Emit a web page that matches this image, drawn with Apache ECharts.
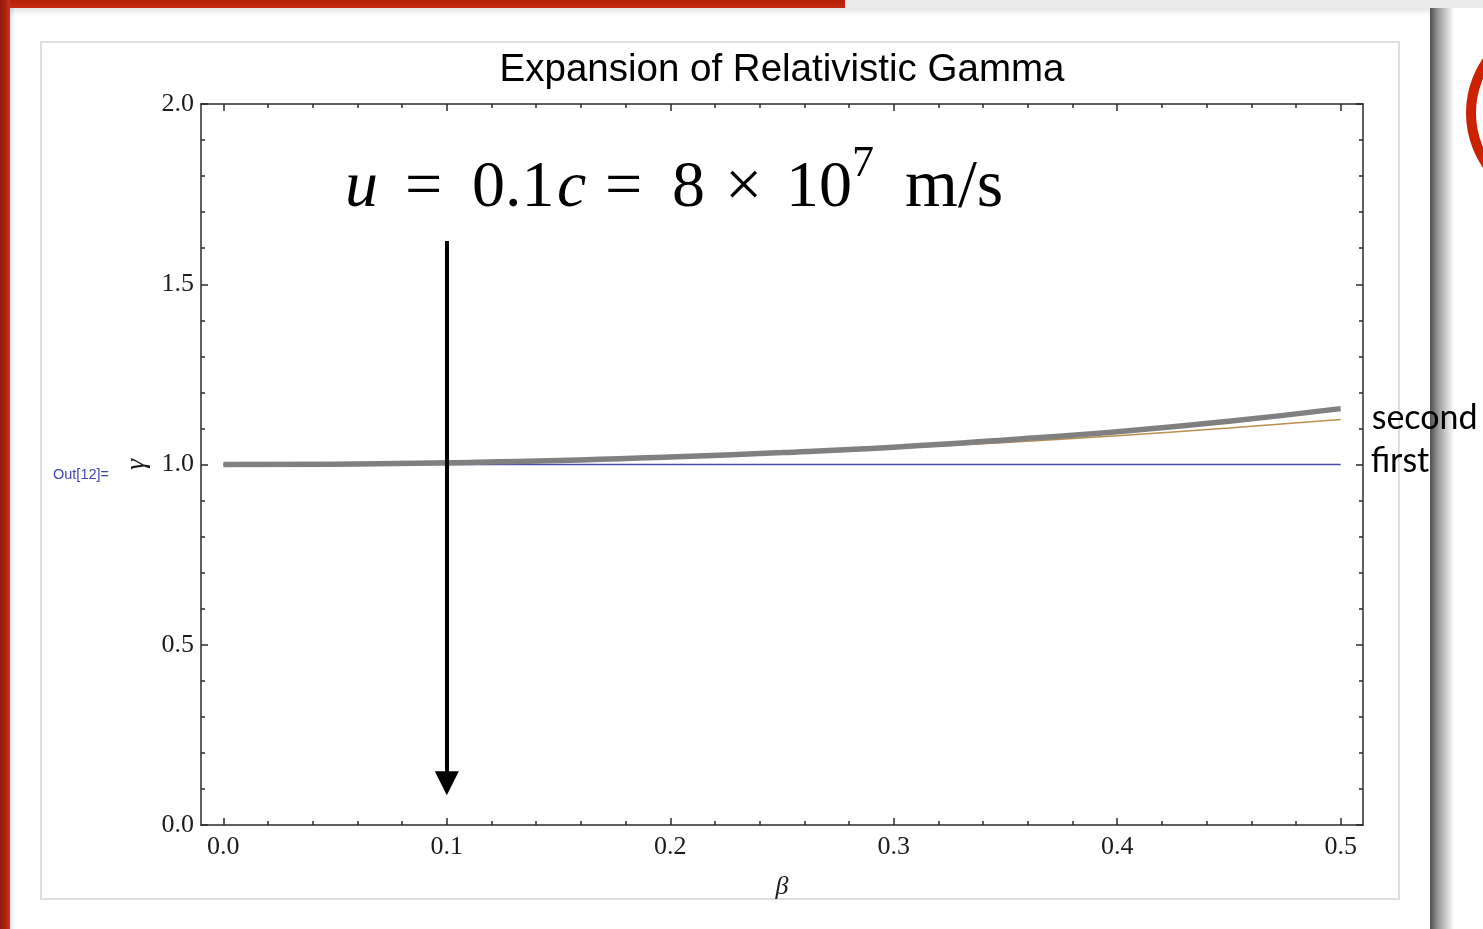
<!DOCTYPE html>
<html>
<head>
<meta charset="utf-8">
<script src="https://cdn.jsdelivr.net/npm/echarts@6/dist/echarts.min.js"></script>
<style>
  html, body { margin: 0; padding: 0; background: #ffffff; }
  #chart { width: 1483px; height: 929px; }
</style>
</head>
<body>
<div id="chart"></div>
<script>
// beta = u/c sample points and the three gamma curves
const beta = [0, 0.05, 0.1, 0.15, 0.2, 0.25, 0.3, 0.35, 0.4, 0.45, 0.5];
const gammaExact = [1.000, 1.001, 1.005, 1.011, 1.021, 1.033, 1.048, 1.068, 1.091, 1.120, 1.155];
const gammaSecond = [1.000, 1.001, 1.005, 1.011, 1.020, 1.031, 1.045, 1.061, 1.080, 1.101, 1.125];
const betaFirst = [0, 0.5];
const gammaFirst = [1.0, 1.0];

// arrow marking u = 0.1c (shaft start, arrow-head centre)
const arrowBeta = 0.1;
const arrowFrom = 1.62;
const arrowTo = 0.116;

// axis ticks
const betaTicks = [0, 0.1, 0.2, 0.3, 0.4, 0.5];
const betaMinorTicks = [0.02, 0.04, 0.06, 0.08, 0.12, 0.14, 0.16, 0.18, 0.22, 0.24, 0.26, 0.28,
                        0.32, 0.34, 0.36, 0.38, 0.42, 0.44, 0.46, 0.48];
const gammaMin = 0, gammaMax = 2, gammaStep = 0.5;

const frameColor = '#2b2b2b';
const serif = '"Liberation Serif", "Times New Roman", serif';

function pairs(xs, ys) { return xs.map((x, i) => [x, ys[i]]); }

function betaAxis(position, ticks, len, withLine, withLabels) {
  return {
    type: 'value', position: position, min: -0.01, max: 0.51,
    axisLine: { show: withLine, onZero: false, lineStyle: { color: frameColor, width: 1.5 } },
    axisTick: { show: true, inside: true, length: len, customValues: ticks,
                lineStyle: { color: frameColor, width: 1.5 } },
    axisLabel: withLabels ? {
      show: true, customValues: ticks, margin: 9,
      formatter: v => v.toFixed(1),
      fontFamily: serif, fontSize: 26, color: '#1c1c1c'
    } : { show: false },
    splitLine: { show: false },
    name: withLabels ? 'β' : '',
    nameLocation: 'middle', nameGap: 49,
    nameTextStyle: { fontFamily: serif, fontStyle: 'italic', fontSize: 26, color: '#1c1c1c' }
  };
}

function gammaAxis(position, withLabels) {
  return {
    type: 'value', position: position, min: gammaMin, max: gammaMax, interval: gammaStep,
    axisLine: { show: true, onZero: false, lineStyle: { color: frameColor, width: 1.5 } },
    axisTick: { show: true, inside: true, length: 7, lineStyle: { color: frameColor, width: 1.5 } },
    minorTick: { show: true, splitNumber: 5, length: 4, lineStyle: { color: frameColor, width: 1.5 } },
    axisLabel: withLabels ? {
      show: true, margin: 7, formatter: v => v.toFixed(1),
      fontFamily: serif, fontSize: 26, color: '#1c1c1c'
    } : { show: false },
    splitLine: { show: false },
    minorSplitLine: { show: false },
    name: withLabels ? 'γ' : '',
    nameLocation: 'middle', nameGap: 43, nameRotate: 90,
    nameTextStyle: { fontFamily: serif, fontStyle: 'italic', fontSize: 28, color: '#1c1c1c' }
  };
}

const chart = echarts.init(document.getElementById('chart'), null, { renderer: 'canvas' });

chart.setOption({
  backgroundColor: '#ffffff',
  animation: false,
  title: {
    text: 'Expansion of Relativistic Gamma',
    left: 782, top: 51, padding: 0, textAlign: 'center',
    textStyle: { fontFamily: '"Liberation Sans", Arial, sans-serif', fontSize: 38.5, fontWeight: 'normal', color: '#000' }
  },
  grid: { left: 201, top: 104, width: 1162, height: 721, containLabel: false, outerBoundsMode: 'none' },
  xAxis: [
    betaAxis('bottom', betaTicks, 7, true, true),
    betaAxis('bottom', betaMinorTicks, 4, false, false),
    betaAxis('top', betaTicks, 7, true, false),
    betaAxis('top', betaMinorTicks, 4, false, false)
  ],
  yAxis: [
    gammaAxis('left', true),
    gammaAxis('right', false)
  ],
  graphic: [
    // slide page behind the notebook cell
    { type: 'rect', z: -20, silent: true, shape: { x: 0, y: 0, width: 1483, height: 929 }, style: { fill: '#ffffff' } },
    { type: 'rect', z: -19, silent: true, shape: { x: 845, y: 0, width: 638, height: 8 }, style: { fill: '#ebebeb' } },
    { type: 'rect', z: -19, silent: true, shape: { x: 0, y: 0, width: 845, height: 8 },
      style: { fill: new echarts.graphic.LinearGradient(0, 0, 0, 1, [
        { offset: 0, color: '#b51f08' }, { offset: 1, color: '#c52a10' }]) } },
    { type: 'rect', z: -19, silent: true, shape: { x: 0, y: 8, width: 1430, height: 8 },
      style: { fill: new echarts.graphic.LinearGradient(0, 0, 0, 1, [
        { offset: 0, color: 'rgba(0,0,0,0.10)' }, { offset: 1, color: 'rgba(0,0,0,0)' }]) } },
    { type: 'rect', z: -18, silent: true, shape: { x: 0, y: 0, width: 10, height: 929 },
      style: { fill: new echarts.graphic.LinearGradient(0, 0, 1, 0, [
        { offset: 0, color: '#8f1a0a' }, { offset: 0.6, color: '#b32210' }, { offset: 1, color: '#c13a26' }]) } },
    { type: 'rect', z: -18, silent: true, shape: { x: 10, y: 8, width: 5, height: 921 },
      style: { fill: new echarts.graphic.LinearGradient(0, 0, 1, 0, [
        { offset: 0, color: 'rgba(0,0,0,0.12)' }, { offset: 1, color: 'rgba(0,0,0,0)' }]) } },
    { type: 'rect', z: -18, silent: true, shape: { x: 1430, y: 8, width: 24, height: 921 },
      style: { fill: new echarts.graphic.LinearGradient(0, 0, 1, 0, [
        { offset: 0, color: '#4f4f4f' }, { offset: 0.35, color: '#9a9a9a' }, { offset: 1, color: '#ffffff' }]) } },
    { type: 'circle', z: -18, silent: true, shape: { cx: 1563, cy: 113, r: 92 },
      style: { fill: 'none', stroke: '#cc2200', lineWidth: 10 } },
    // notebook output cell frame
    { type: 'rect', z: -15, silent: true, shape: { x: 41, y: 42, width: 1358, height: 857 },
      style: { fill: '#ffffff', stroke: '#dedede', lineWidth: 2 } },
    { type: 'text', z: 5, silent: true, left: 53, top: 467,
      style: { text: 'Out[12]=', font: '14.5px "Liberation Sans", Arial, sans-serif', fill: '#4646b4' } },
    // equation above the arrow
    { type: 'text', z: 5, silent: true, left: 345, top: 142,
      style: {
        text: '{u|u}{eq|=}{n|0.1}{c|c}{eq|=}{d|8}{x|×}{t|10}{sup|7}{unit|m/s}',
        font: '66px ' + serif, fill: '#000',
        rich: {
          u: { fontFamily: serif, fontStyle: 'italic', fontSize: 66, width: 60, lineHeight: 80, verticalAlign: 'bottom' },
          eq: { fontFamily: serif, fontSize: 66, width: 67, lineHeight: 80, verticalAlign: 'bottom' },
          n: { fontFamily: serif, fontSize: 66, width: 85, lineHeight: 80, verticalAlign: 'bottom' },
          c: { fontFamily: serif, fontStyle: 'italic', fontSize: 66, width: 48, lineHeight: 80, verticalAlign: 'bottom' },
          d: { fontFamily: serif, fontSize: 66, width: 53, lineHeight: 80, verticalAlign: 'bottom' },
          x: { fontFamily: serif, fontSize: 66, width: 61, lineHeight: 80, verticalAlign: 'bottom' },
          t: { fontFamily: serif, fontSize: 66, width: 66, lineHeight: 80, verticalAlign: 'bottom' },
          sup: { fontFamily: serif, fontSize: 44, width: 53, lineHeight: 80, verticalAlign: 'top' },
          unit: { fontFamily: serif, fontSize: 68, lineHeight: 80, verticalAlign: 'bottom' }
        }
      } }
  ],
  series: [
    {
      name: 'first', type: 'line', xAxisIndex: 0, yAxisIndex: 0,
      data: pairs(betaFirst, gammaFirst), showSymbol: false, symbol: 'none',
      lineStyle: { color: '#4a4aac', width: 1.5 }, z: 3,
      endLabel: { show: true, formatter: 'first', distance: 30, offset: [0, -3],
                  fontFamily: 'Lato, "Open Sans", sans-serif', fontSize: 34, color: '#000' }
    },
    {
      name: 'second', type: 'line', xAxisIndex: 0, yAxisIndex: 0,
      data: pairs(beta, gammaSecond), smooth: true, showSymbol: false, symbol: 'none',
      lineStyle: { color: '#b98f4c', width: 1.5 }, z: 3,
      endLabel: { show: true, formatter: 'second', distance: 31, offset: [0, -1],
                  fontFamily: 'Lato, "Open Sans", sans-serif', fontSize: 34, color: '#000' }
    },
    {
      name: 'exact', type: 'line', xAxisIndex: 0, yAxisIndex: 0,
      data: pairs(beta, gammaExact), smooth: true, showSymbol: false, symbol: 'none',
      lineStyle: { color: '#808080', width: 5.5 }, z: 4
    },
    {
      name: 'arrow', type: 'lines', coordinateSystem: 'cartesian2d', xAxisIndex: 0, yAxisIndex: 0,
      data: [{ coords: [[arrowBeta, arrowFrom], [arrowBeta, arrowTo]] }],
      symbol: ['none', 'triangle'], symbolSize: [26, 24],
      lineStyle: { color: '#000', width: 4, opacity: 1 }, z: 6
    }
  ]
});
</script>
</body>
</html>
